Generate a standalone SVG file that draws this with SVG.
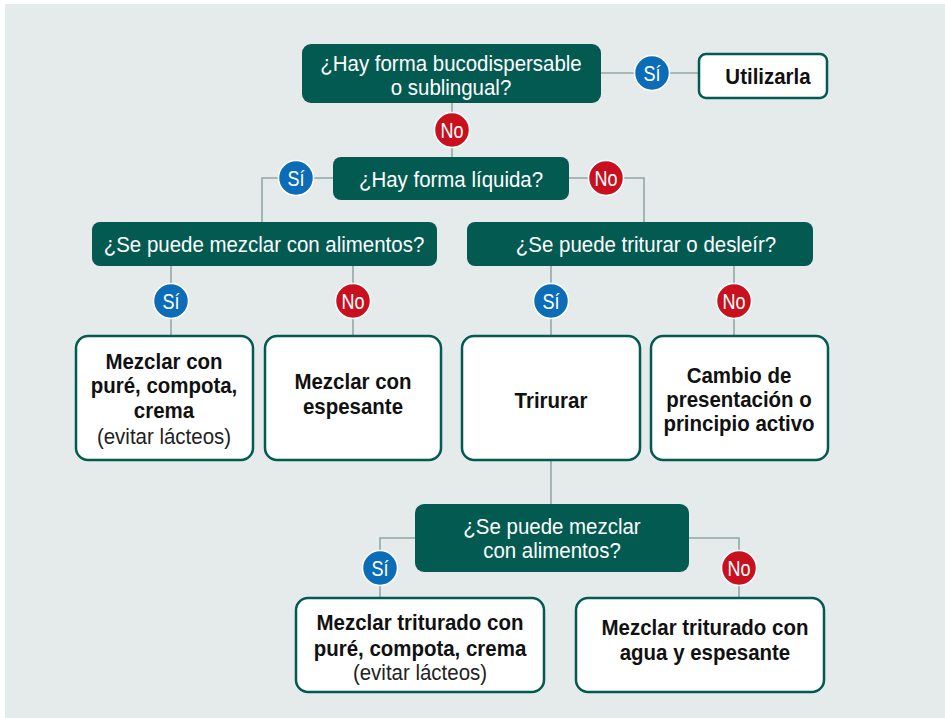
<svg xmlns="http://www.w3.org/2000/svg" width="945" height="718" viewBox="0 0 945 718">
<style>
.q{fill:#035a51}
.a{fill:#fff;stroke:#035a51;stroke-width:2.5}
.t{font-family:"Liberation Sans",Arial,sans-serif;font-size:22px;text-anchor:middle}
.qt{fill:#fff}
.b{font-weight:bold;fill:#111}
.n{fill:#222}
.si{fill:#0b6db7;stroke:#fff;stroke-width:1.5}
.no{fill:#c8101f;stroke:#fff;stroke-width:1.5}
.lt{font-family:"Liberation Sans",Arial,sans-serif;font-size:22px;fill:#fff;text-anchor:middle}
.c{fill:none;stroke:#93a7a7;stroke-width:1.6}
</style>
<rect x="5" y="4" width="940" height="714" fill="#e5ebeb"/>
<g id="connectors">
<path class="c" d="M601 73H699"/>
<path class="c" d="M452 103V157"/>
<path class="c" d="M333 178H262V222"/>
<path class="c" d="M569 178H644V222"/>
<path class="c" d="M171 266V336"/>
<path class="c" d="M353 266V336"/>
<path class="c" d="M551 266V336"/>
<path class="c" d="M734 266V336"/>
<path class="c" d="M551 460V504"/>
<path class="c" d="M415 538H380V598"/>
<path class="c" d="M689 538H739V598"/>
</g>
<g id="q1"><rect class="q" x="302" y="44" width="299" height="59" rx="9"/>
<g transform="matrix(0.93 0 0 1 31.57 0)"><text class="t qt" x="451" y="71">¿Hay forma bucodispersable</text><text class="t qt" x="451" y="95">o sublingual?</text></g></g>
<g id="l1"><circle class="si" cx="652" cy="73" r="17.5"/><text class="lt" transform="matrix(0.82 0 0 1 117.36 0)" x="652" y="81">Sí</text></g>
<g id="utilizarla"><rect class="a" x="699" y="54" width="128" height="44" rx="7"/><text class="t b" transform="matrix(0.93 0 0 1 53.76 0)" x="768" y="84">Utilizarla</text></g>
<g id="l2"><circle class="no" cx="452" cy="130" r="17.5"/><text class="lt" transform="matrix(0.82 0 0 1 81.36 0)" x="452" y="138">No</text></g>
<g id="q2"><rect class="q" x="333" y="157" width="236" height="43" rx="8"/><text class="t qt" transform="matrix(0.93 0 0 1 31.57 0)" x="451" y="187">¿Hay forma líquida?</text></g>
<g id="l3"><circle class="si" cx="296" cy="178" r="17.5"/><text class="lt" transform="matrix(0.82 0 0 1 53.28 0)" x="296" y="186">Sí</text></g>
<g id="l4"><circle class="no" cx="606" cy="178" r="17.5"/><text class="lt" transform="matrix(0.82 0 0 1 109.08 0)" x="606" y="186">No</text></g>
<g id="q3"><rect class="q" x="92" y="222" width="345" height="44" rx="8"/><text class="t qt" transform="matrix(0.93 0 0 1 18.48 0)" x="264" y="252">¿Se puede mezclar con alimentos?</text></g>
<g id="q4"><rect class="q" x="467" y="222" width="346" height="44" rx="8"/><text class="t qt" transform="matrix(0.93 0 0 1 45.22 0)" x="646" y="252">¿Se puede triturar o desleír?</text></g>
<g id="l5"><circle class="si" cx="171" cy="301" r="17.5"/><text class="lt" transform="matrix(0.82 0 0 1 30.78 0)" x="171" y="309">Sí</text></g>
<g id="l6"><circle class="no" cx="353" cy="301" r="17.5"/><text class="lt" transform="matrix(0.82 0 0 1 63.54 0)" x="353" y="309">No</text></g>
<g id="l7"><circle class="si" cx="551" cy="301" r="17.5"/><text class="lt" transform="matrix(0.82 0 0 1 99.18 0)" x="551" y="309">Sí</text></g>
<g id="l8"><circle class="no" cx="734" cy="301" r="17.5"/><text class="lt" transform="matrix(0.82 0 0 1 132.12 0)" x="734" y="309">No</text></g>
<g id="a1"><rect class="a" x="76" y="336" width="177" height="124" rx="12"/>
<g transform="matrix(0.93 0 0 1 11.48 0)"><text class="t b" x="164" y="369">Mezclar con</text><text class="t b" x="164" y="393">puré, compota,</text><text class="t b" x="164" y="418">crema</text><text class="t n" x="164" y="444">(evitar lácteos)</text></g></g>
<g id="a2"><rect class="a" x="265" y="336" width="176" height="124" rx="12"/>
<g transform="matrix(0.93 0 0 1 24.71 0)"><text class="t b" x="353" y="389">Mezclar con</text><text class="t b" x="353" y="414">espesante</text></g></g>
<g id="a3"><rect class="a" x="462" y="336" width="178" height="124" rx="12"/>
<text class="t b" transform="matrix(0.93 0 0 1 38.57 0)" x="551" y="408">Trirurar</text></g>
<g id="a4"><rect class="a" x="651" y="336" width="177" height="124" rx="12"/>
<g transform="matrix(0.93 0 0 1 51.73 0)"><text class="t b" x="739" y="383">Cambio de</text><text class="t b" x="739" y="407">presentación o</text><text class="t b" x="739" y="431">principio activo</text></g></g>
<g id="q5"><rect class="q" x="415" y="504" width="274" height="68" rx="9"/>
<g transform="matrix(0.93 0 0 1 38.64 0)"><text class="t qt" x="552" y="534">¿Se puede mezclar</text><text class="t qt" x="552" y="558">con alimentos?</text></g></g>
<g id="l9"><circle class="si" cx="380" cy="568" r="17.5"/><text class="lt" transform="matrix(0.82 0 0 1 68.4 0)" x="380" y="576">Sí</text></g>
<g id="l10"><circle class="no" cx="739" cy="568" r="17.5"/><text class="lt" transform="matrix(0.82 0 0 1 133.02 0)" x="739" y="576">No</text></g>
<g id="b1"><rect class="a" x="296" y="598" width="248" height="94" rx="12"/>
<g transform="matrix(0.93 0 0 1 29.4 0)"><text class="t b" x="420" y="630">Mezclar triturado con</text><text class="t b" x="420" y="656">puré, compota, crema</text><text class="t n" x="420" y="680">(evitar lácteos)</text></g></g>
<g id="b2"><rect class="a" x="576" y="598" width="248" height="94" rx="12"/>
<g transform="matrix(0.93 0 0 1 49.35 0)"><text class="t b" x="705" y="635">Mezclar triturado con</text><text class="t b" x="705" y="660">agua y espesante</text></g></g>
</svg>
